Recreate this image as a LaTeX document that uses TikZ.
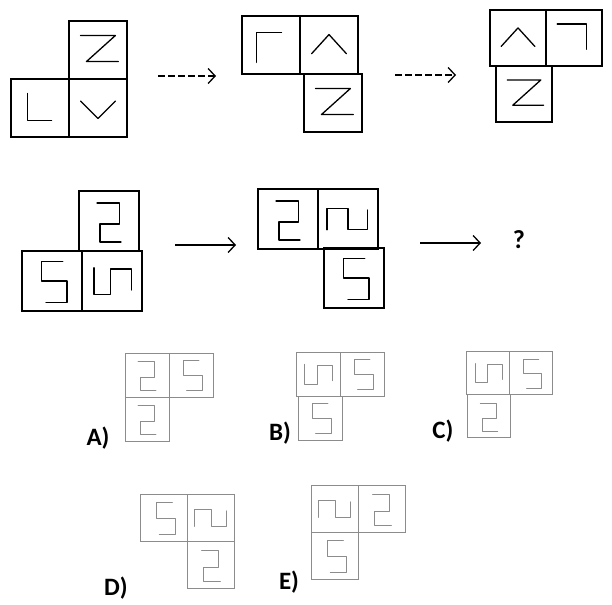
\documentclass[tikz,border=0pt]{standalone}
\usepackage{fontspec}
\newfontfamily\labelfont{Carlito}
\usetikzlibrary{arrows.meta}
\tikzset{
  zelle/.style={draw, line width=1.5pt, minimum size=#1, inner sep=0pt},
  klein/.style={draw=black!45, line width=0.9pt, minimum size=#1, inner sep=0pt},
  zg/.style={x=#1pt, y=#1pt},
  strich/.style={line cap=round, line join=round},
  pfeil/.style={line width=1.3pt, ->},
  >={Straight Barb[length=7pt, width=15pt]},
  % Symbole in einer Zelle
  zz/.pic={\draw[strich] (-0.3,0.25)--(0.3,0.25)--(-0.2,-0.2)--(0.35,-0.2);},
  ll/.pic={\draw[strich] (-0.22,0.25)--(-0.22,-0.22)--(0.2,-0.22);},
  vv/.pic={\draw[strich] (-0.3,0.12)--(0,-0.18)--(0.3,0.12);},
  dach/.pic={\draw[strich] (-0.3,-0.15)--(0,0.18)--(0.3,-0.15);},
  gam/.pic={\draw[strich] (-0.25,-0.3)--(-0.25,0.22)--(0.18,0.22);},
  haken/.pic={\draw[strich] (-0.3,0.25)--(0.22,0.25)--(0.22,-0.2);},
  zwei/.pic={\draw[strich] (-0.2,0.3)--(0.17,0.3)--(0.17,-0.05)--(-0.15,-0.05)--(-0.15,-0.35)--(0.2,-0.35);},
  fuenf/.pic={\draw[strich] (0.18,0.32)--(-0.17,0.32)--(-0.17,0)--(0.25,0)--(0.25,-0.36)--(-0.1,-0.36);},
  welle/.pic={\draw[strich] (-0.3,0.22)--(-0.3,-0.23)--(-0.02,-0.23)--(-0.02,0.2)--(0.33,0.2)--(0.33,-0.15);},
  welleb/.pic={\draw[strich] (-0.35,-0.18)--(-0.35,0.18)--(0,0.18)--(0,-0.18)--(0.33,-0.18)--(0.33,0.15);},
}
\begin{document}
\begin{tikzpicture}[x=1pt, y=-1pt]
    \useasboundingbox (0,0) rectangle (612,604);

    % Reihe 1, Figur 1
    \node[zelle=58] (aZ) at (98,50) {};
    \node[zelle=58] (aL) at (40,108) {};
    \node[zelle=58] (aV) at (98,108) {};
    \pic[zg=58, line width=1.3pt] at (aZ) {zz};
    \pic[zg=58, line width=1.3pt] at (aL) {ll};
    \pic[zg=58, line width=1.3pt] at (aV) {vv};

    % Reihe 1, Figur 2
    \node[zelle=58] (bG) at (271,45) {};
    \node[zelle=58] (bD) at (329,45) {};
    \node[zelle=58] (bZ) at (333,103) {};
    \pic[zg=58, line width=1.3pt] at (bG) {gam};
    \pic[zg=58, line width=1.3pt] at (bD) {dach};
    \pic[zg=58, line width=1.3pt] at (bZ) {zz};

    % Reihe 1, Figur 3
    \node[zelle=56] (cD) at (518,38) {};
    \node[zelle=56] (cH) at (574,38) {};
    \node[zelle=56] (cZ) at (524,94) {};
    \pic[zg=56, line width=1.3pt] at (cD) {dach};
    \pic[zg=56, line width=1.3pt] at (cH) {haken};
    \pic[zg=56, line width=1.3pt] at (cZ) {zz};

    % Pfeile Reihe 1
    \coordinate (p1) at (158,76);
    \coordinate (p2) at (216,76);
    \coordinate (p3) at (395,75);
    \coordinate (p4) at (456,75);
    \draw[pfeil, dash pattern=on 7pt off 3pt] (p1) -- (p2);
    \draw[pfeil, dash pattern=on 7pt off 3pt] (p3) -- (p4);

    % Reihe 2, Figur 1
    \node[zelle=60] (dZ) at (109,221) {};
    \node[zelle=60] (dF) at (52,281) {};
    \node[zelle=60] (dW) at (112,281) {};
    \pic[zg=60, line width=1.3pt] at (dZ) {zwei};
    \pic[zg=60, line width=1.3pt] at (dF) {fuenf};
    \pic[zg=60, line width=1.3pt] at (dW) {welle};

    % Reihe 2, Figur 2
    \node[zelle=60] (eZ) at (288,219) {};
    \node[zelle=60] (eW) at (348,219) {};
    \node[zelle=60] (eF) at (354,278) {};
    \pic[zg=60, line width=1.3pt] at (eZ) {zwei};
    \pic[zg=60, line width=1.3pt] at (eW) {welleb};
    \pic[zg=60, line width=1.3pt] at (eF) {fuenf};

    % Pfeile Reihe 2
    \coordinate (q1) at (175,245);
    \coordinate (q2) at (236,245);
    \coordinate (q3) at (420,243);
    \coordinate (q4) at (481,243);
    \draw[pfeil] (q1) -- (q2);
    \draw[pfeil] (q3) -- (q4);
    \node[font=\labelfont\bfseries\fontsize{26}{28}\selectfont] (frage) at (519,240) {?};

    % Antworten
    \begin{scope}[black!45, line width=1pt]
      \node[klein=44] (A1) at (147,375) {};
      \node[klein=44] (A2) at (191,375) {};
      \node[klein=44] (A3) at (147,419) {};
      \pic[zg=44] at (A1) {zwei};
      \pic[zg=44] at (A2) {fuenf};
      \pic[zg=44] at (A3) {zwei};

      \node[klein=44] (B1) at (318,374) {};
      \node[klein=44] (B2) at (362,374) {};
      \node[klein=44] (B3) at (320,418) {};
      \pic[zg=44] at (B1) {welle};
      \pic[zg=44] at (B2) {fuenf};
      \pic[zg=44] at (B3) {fuenf};

      \node[klein=43] (C1) at (488,373) {};
      \node[klein=43] (C2) at (531,373) {};
      \node[klein=43] (C3) at (489,416) {};
      \pic[zg=43] at (C1) {welle};
      \pic[zg=43] at (C2) {fuenf};
      \pic[zg=43] at (C3) {zwei};

      \node[klein=47] (D1) at (164,518) {};
      \node[klein=47] (D2) at (211,518) {};
      \node[klein=47] (D3) at (211,565) {};
      \pic[zg=47] at (D1) {fuenf};
      \pic[zg=47] at (D2) {welleb};
      \pic[zg=47] at (D3) {zwei};

      \node[klein=47] (E1) at (335,509) {};
      \node[klein=47] (E2) at (382,509) {};
      \node[klein=47] (E3) at (335,556) {};
      \pic[zg=47] at (E1) {welleb};
      \pic[zg=47] at (E2) {zwei};
      \pic[zg=47] at (E3) {fuenf};
    \end{scope}

    % Buchstaben
    \begin{scope}[font=\labelfont\bfseries\fontsize{25}{28}\selectfont]
      \node (lA) at (98,438) {A)};
      \node (lB) at (280,433) {B)};
      \node (lC) at (443,431) {C)};
      \node (lD) at (116,588) {D)};
      \node (lE) at (289,582) {E)};
    \end{scope}
\end{tikzpicture}
\end{document}
